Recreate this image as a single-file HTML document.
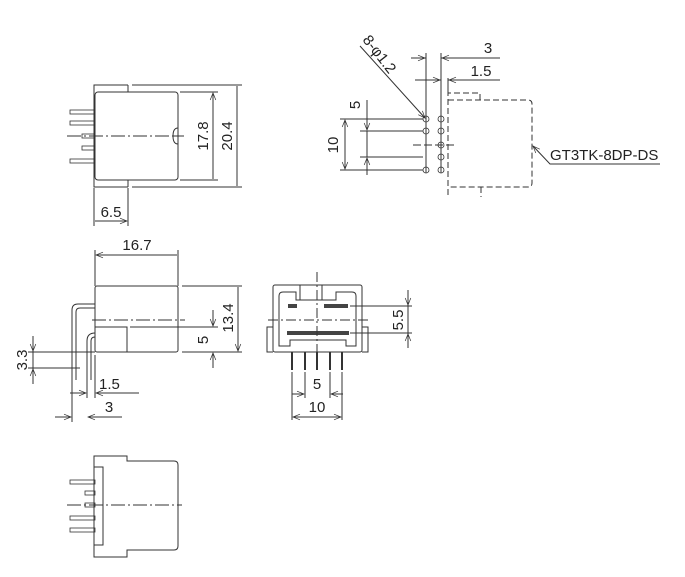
<!DOCTYPE html><html><head><style>body{margin:0;background:#fff}svg{display:block}text{font-family:"Liberation Sans",sans-serif;font-size:15px;fill:#222}</style></head><body>
<svg width="685" height="577" viewBox="0 0 685 577" xmlns="http://www.w3.org/2000/svg">
<defs><marker id="a" viewBox="0 0 10 10" refX="10" refY="5" markerWidth="10" markerHeight="7" orient="auto-start-reverse"><path d="M0,1L10,5L0,9" fill="none" stroke="#333" stroke-width="1"/></marker></defs>
<g stroke="#333" stroke-width="1" fill="none">
<path d="M128,85H94V187H128M132,85H242M132,187H242M128,85V92M128,180V187"/>
<rect x="95" y="92" width="83" height="88" rx="3"/>
<path d="M178,128q-5,0-5,8q0,8,5,8M172,136H184M178,130V142"/>
<g stroke-width="0.8"><rect x="70" y="110" width="25" height="4"/><rect x="70" y="121" width="25" height="4"/><rect x="82" y="134" width="13" height="4"/><rect x="82" y="146" width="13" height="4"/><rect x="70" y="159" width="25" height="4"/></g>
<path d="M67,136H182" stroke-dasharray="14,3,2,3"/>
<path d="M180,92H218M180,180H218"/>
<path d="M213,93V179M237,86V186M94,188V226M128,188V226M95,221H127" marker-start="url(#a)" marker-end="url(#a)"/>
<path d="M426,53V173M441,53V173M448,78V93"/>
<path d="M411,58H426M441,58H500M415,80H441M448,80H500"/>
<path d="M411,58H425" marker-end="url(#a)"/><path d="M456,58H442" marker-end="url(#a)"/>
<path d="M426,80H440" marker-end="url(#a)"/><path d="M462,80H449" marker-end="url(#a)"/>
<g stroke-dasharray="6,3"><path d="M448,195V93H480V100"/><path d="M448,100H528q4,0,4,4V183q0,4-4,4H448"/><path d="M481,187V197"/></g>
<path d="M660,164H550L533,146" marker-end="url(#a)"/>
<path d="M360,46L425,118" marker-end="url(#a)"/>
<g stroke-width="0.8"><circle cx="426" cy="119" r="3"/><circle cx="426" cy="131" r="3"/><circle cx="426" cy="170" r="3"/><circle cx="441" cy="119" r="3"/><circle cx="441" cy="131" r="3"/><circle cx="441" cy="145" r="3"/><circle cx="441" cy="157" r="3"/><circle cx="441" cy="170" r="3"/></g>
<path d="M413,145H455" stroke-dasharray="8,3"/>
<path d="M340,119H423M340,170H423M360,131H423M360,157H423"/>
<path d="M345,120V169" marker-start="url(#a)" marker-end="url(#a)"/>
<path d="M367,100V130" marker-end="url(#a)"/><path d="M367,175V158" marker-end="url(#a)"/><path d="M367,131V157"/>
<rect x="95" y="286" width="83" height="66" rx="2"/>
<path d="M95,327H127V352M130,327H178"/>
<path d="M92,320H185" stroke-dasharray="14,3,2,3"/>
<path d="M95,304H78q-6,0-6,6V380M95,308H80q-4,0-4,4V380"/>
<path d="M95,333q-8,0-8,8V380M95,337q-4,0-4,4V380"/>
<path d="M95,250V286M178,250V286M182,286H242M182,352H242M178,327H218M28,352H95M28,368H80M72,380V422M87,380V398M95,355V398"/>
<path d="M96,255H177M238,287V351" marker-start="url(#a)" marker-end="url(#a)"/>
<path d="M213,310V326" marker-end="url(#a)"/><path d="M213,368V353" marker-end="url(#a)"/>
<path d="M33,336V351" marker-end="url(#a)"/><path d="M33,384V369" marker-end="url(#a)"/><path d="M33,336V384"/>
<path d="M70,393H86" marker-end="url(#a)"/><path d="M139,393H96" marker-end="url(#a)"/>
<path d="M55,417H71" marker-end="url(#a)"/><path d="M122,417H88" marker-end="url(#a)"/>
<rect x="273" y="285" width="89" height="67" rx="2"/>
<path d="M273,327H267V352H273M362,327H368V352H362"/>
<path d="M279,346V296q0-4,4-4H296V300H336V292H352q4,0,4,4V346H346V340H290V346Z"/>
<path d="M300,285V300M322,285V300"/>
<g fill="#444" stroke="none"><rect x="288" y="304" width="9" height="4"/><rect x="324" y="304" width="24" height="4"/><rect x="287" y="331" width="62" height="4"/></g>
<path d="M268,320H368" stroke-dasharray="10,3,2,3"/><path d="M317,272V368" stroke-dasharray="10,3,2,3"/>
<path d="M292,352V370M305,352V370M317,352V370M330,352V370M342,352V370" stroke-width="2"/>
<path d="M350,306H412M350,333H412M292,372V420M342,372V420M305,372V398M330,372V398"/>
<path d="M408,290V305" marker-end="url(#a)"/><path d="M408,348V334" marker-end="url(#a)"/><path d="M408,290V348"/>
<path d="M293,417H341" marker-start="url(#a)" marker-end="url(#a)"/>
<path d="M292,394H304" marker-end="url(#a)"/><path d="M343,394H331" marker-end="url(#a)"/>
<path d="M94,456H127V461H174q4,0,4,4V546q0,4-4,4H127V557H94Z"/>
<rect x="94" y="467" width="9" height="78"/>
<g stroke-width="0.8"><rect x="70" y="480" width="25" height="4"/><rect x="85" y="491" width="10" height="4"/><rect x="85" y="503" width="10" height="4"/><rect x="70" y="516" width="25" height="4"/><rect x="70" y="528" width="25" height="4"/></g>
<path d="M67,505H182" stroke-dasharray="14,3,2,3"/>
</g>
<text x="111" y="217" text-anchor="middle">6.5</text>
<text transform="translate(208,136) rotate(-90)" text-anchor="middle">17.8</text>
<text transform="translate(232,136) rotate(-90)" text-anchor="middle">20.4</text>
<text x="488" y="53" text-anchor="middle">3</text>
<text x="481" y="76" text-anchor="middle">1.5</text>
<text transform="translate(362,40) rotate(52)">8-φ1.2</text>
<text transform="translate(338,145) rotate(-90)" text-anchor="middle">10</text>
<text transform="translate(360,105) rotate(-90)" text-anchor="middle">5</text>
<text x="550" y="160">GT3TK-8DP-DS</text>
<text x="137" y="250" text-anchor="middle">16.7</text>
<text transform="translate(233,318) rotate(-90)" text-anchor="middle">13.4</text>
<text transform="translate(208,340) rotate(-90)" text-anchor="middle">5</text>
<text transform="translate(27,360) rotate(-90)" text-anchor="middle">3.3</text>
<text x="99" y="389">1.5</text>
<text x="109" y="412" text-anchor="middle">3</text>
<text transform="translate(403,320) rotate(-90)" text-anchor="middle">5.5</text>
<text x="317" y="389" text-anchor="middle">5</text>
<text x="317" y="412" text-anchor="middle">10</text>
</svg></body></html>
